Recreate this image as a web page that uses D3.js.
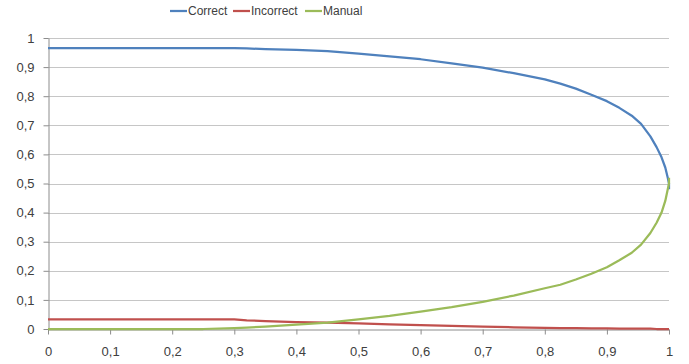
<!DOCTYPE html>
<html>
<head>
<meta charset="utf-8">
<script src="https://cdn.jsdelivr.net/npm/d3@7"></script>
<style>
  html, body { margin: 0; padding: 0; background: #fff; }
  svg { display: block; }
  text { font-family: "Liberation Sans", Arial, sans-serif; fill: #404040; }
</style>
</head>
<body>
<svg id="chart" width="689" height="364"></svg>
<script>
// Threshold values (x) and the share of cases in each outcome
const thresholds = [0, 0.05, 0.1, 0.15, 0.2, 0.25, 0.3, 0.32, 0.35, 0.4, 0.45, 0.5, 0.55, 0.6, 0.65, 0.7, 0.75, 0.8, 0.825, 0.85, 0.875, 0.9, 0.92, 0.94, 0.955, 0.97, 0.98, 0.988, 0.994, 0.998, 1, 1];
const correct = [0.965, 0.965, 0.965, 0.965, 0.965, 0.965, 0.965, 0.964, 0.962, 0.959, 0.955, 0.946, 0.937, 0.927, 0.913, 0.898, 0.879, 0.858, 0.843, 0.826, 0.805, 0.783, 0.76, 0.733, 0.705, 0.662, 0.625, 0.59, 0.555, 0.52, 0.5, 0.48];
const incorrect = [0.033, 0.033, 0.033, 0.033, 0.033, 0.033, 0.033, 0.03, 0.027, 0.024, 0.022, 0.019, 0.016, 0.013, 0.011, 0.008, 0.006, 0.004, 0.003, 0.003, 0.002, 0.002, 0.001, 0.001, 0.001, 0.001, 0, 0, 0, 0, 0, 0];
const manual = [0, 0, 0, 0, 0, 0, 0.003, 0.005, 0.008, 0.015, 0.022, 0.033, 0.045, 0.06, 0.075, 0.093, 0.115, 0.14, 0.152, 0.17, 0.19, 0.212, 0.236, 0.262, 0.29, 0.33, 0.365, 0.4, 0.44, 0.48, 0.5, 0.52];

const seriesNames = ["Correct", "Incorrect", "Manual"];
const seriesColors = ["#4f81bd", "#c0504d", "#9bbb59"];
const seriesValues = [correct, incorrect, manual];
const tickValues = d3.range(0, 11).map(d => d / 10);
const fmt = d => d === 0 ? "0" : d === 1 ? "1" : d.toFixed(1).replace(".", ",");

const svg = d3.select("#chart");
const margin = { left: 48, right: 20, top: 38, bottom: 35 };
const W = 689, H = 364;

const x = d3.scaleLinear().domain([0, 1]).range([margin.left, W - margin.right]);
const y = d3.scaleLinear().domain([0, 1]).range([H - margin.bottom, margin.top]);

// Horizontal gridlines
svg.append("g")
  .selectAll("line")
  .data(tickValues.filter(d => d > 0))
  .join("line")
  .attr("x1", x(0)).attr("x2", x(1))
  .attr("y1", d => Math.round(y(d)) + 0.5).attr("y2", d => Math.round(y(d)) + 0.5)
  .attr("stroke", "#c6c6c6").attr("stroke-width", 1);

// Axes
const yAxis = svg.append("g")
  .attr("transform", `translate(${x(0) + 0.5},0)`)
  .call(d3.axisLeft(y).tickValues(tickValues).tickFormat(fmt).tickSize(5).tickPadding(9).tickSizeOuter(0));
const xAxis = svg.append("g")
  .attr("transform", `translate(0,${Math.round(y(0)) + 0.5})`)
  .call(d3.axisBottom(x).tickValues(tickValues).tickFormat(fmt).tickSize(5).tickPadding(12).tickSizeOuter(0));
[xAxis, yAxis].forEach(a => {
  a.select(".domain").attr("stroke", "#8c8c8c");
  a.selectAll(".tick line").attr("stroke", "#8c8c8c");
  a.selectAll(".tick text").attr("fill", "#404040").style("font-size", "13px")
    .style("font-family", "'Liberation Sans', Arial, sans-serif");
});

// Series lines
const line = d3.line().x(d => x(d[0])).y(d => y(d[1]));
seriesValues.forEach((vals, i) => {
  svg.append("path")
    .datum(thresholds.map((t, j) => [t, vals[j]]))
    .attr("fill", "none")
    .attr("stroke", seriesColors[i])
    .attr("stroke-width", 2.25)
    .attr("stroke-linejoin", "round")
    .attr("d", line);
});

// Legend
const legendX = [170, 233, 305];
const legend = svg.append("g").attr("transform", "translate(0,11)");
seriesNames.forEach((name, i) => {
  const g = legend.append("g").attr("transform", `translate(${legendX[i]},0)`);
  g.append("line").attr("x1", 0).attr("x2", 17).attr("y1", 0).attr("y2", 0)
    .attr("stroke", seriesColors[i]).attr("stroke-width", 2.25);
  g.append("text").attr("x", 18).attr("y", 0).attr("dy", "0.35em")
    .style("font-size", "12px").text(name);
});
</script>
</body>
</html>
